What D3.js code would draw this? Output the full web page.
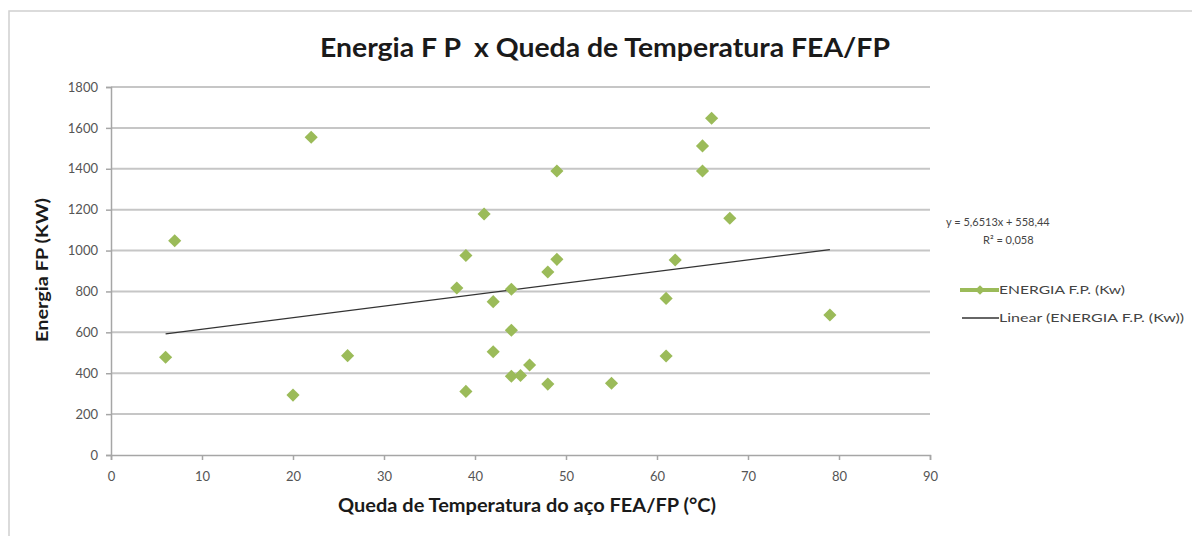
<!DOCTYPE html>
<html>
<head>
<meta charset="utf-8">
<script src="https://cdn.jsdelivr.net/npm/d3@7"></script>
<style>
  body { margin: 0; background: #fff; }
  text { font-family: Lato, "Open Sans", sans-serif; }
</style>
</head>
<body>
<div id="chart"></div>
<script>
// chart size
var width = 1192,
  height = 536;

// data
var queda = [22, 49, 41, 7, 39, 49, 38, 42, 44, 48, 44, 42, 6, 26, 44, 45, 46, 48, 20, 39, 66, 65, 65, 68, 62, 61, 79, 61, 55];
var energia = [1554, 1389, 1179, 1048, 976, 957, 817, 750, 811, 895, 610, 505, 478, 486, 385, 389, 440, 347, 293, 311, 1647, 1512, 1389, 1158, 954, 766, 685, 484, 351];
var xTicks = [0, 10, 20, 30, 40, 50, 60, 70, 80, 90];
var yTicks = [0, 200, 400, 600, 800, 1000, 1200, 1400, 1600, 1800];
var slope = 5.6513,
  intercept = 558.44;
var eqLabel = "y = 5,6513x + 558,44";
var r2Label = "R² = 0,058";
var seriesName = "ENERGIA F.P. (Kw)";
var trendName = "Linear (ENERGIA F.P. (Kw))";

var svg = d3.select("#chart").append("svg")
  .attr("width", width)
  .attr("height", height);

// outer chart frame
svg.append("rect")
  .attr("x", 9).attr("y", 11)
  .attr("width", 1250).attr("height", 600)
  .attr("fill", "none")
  .attr("stroke", "#d0d0d0")
  .attr("stroke-width", 1.5);

var x = d3.scaleLinear().domain([0, 90]).range([111, 930]);
var y = d3.scaleLinear().domain([0, 1800]).range([455, 87]);

// horizontal gridlines
svg.append("g")
  .selectAll("line")
  .data(yTicks.filter(function (d) { return d > 0; }))
  .enter()
  .append("line")
  .attr("x1", x(0)).attr("x2", x(90))
  .attr("y1", function (d) { return y(d); })
  .attr("y2", function (d) { return y(d); })
  .attr("stroke", "#c6c6c6")
  .attr("stroke-width", 2);

// axes
var xAxis = svg.append("g")
  .attr("transform", "translate(0," + y(0) + ")")
  .call(d3.axisBottom(x).tickValues(xTicks).tickFormat(d3.format("d")).tickSize(5).tickPadding(12));
var yAxis = svg.append("g")
  .attr("transform", "translate(" + x(0) + ",0)")
  .call(d3.axisLeft(y).tickValues(yTicks).tickFormat(d3.format("d")).tickSize(5).tickPadding(8));

[xAxis, yAxis].forEach(function (a) {
  a.select(".domain").attr("stroke", "#a6a6a6").attr("stroke-width", 1.5);
  a.selectAll(".tick line").attr("stroke", "#a6a6a6").attr("stroke-width", 1.5);
  a.selectAll(".tick text")
    .attr("fill", "#555")
    .style("font-size", "13px")
    .style("font-family", "Lato, sans-serif");
});

// trend line from min to max x
var xr = d3.extent(queda);
svg.append("line")
  .attr("x1", x(xr[0])).attr("y1", y(slope * xr[0] + intercept))
  .attr("x2", x(xr[1])).attr("y2", y(slope * xr[1] + intercept))
  .attr("stroke", "#333")
  .attr("stroke-width", 1.3);

// markers
var diamond = d3.symbol().type(d3.symbolDiamond2).size(110);
svg.append("g")
  .selectAll("path")
  .data(queda)
  .enter()
  .append("path")
  .attr("d", diamond)
  .attr("transform", function (d, i) { return "translate(" + x(d) + "," + y(energia[i]) + ")"; })
  .attr("fill", "#9bbb59");

// titles
svg.append("text")
  .attr("x", 320).attr("y", 57)
  .style("font-size", "26px")
  .style("font-weight", "bold")
  .attr("fill", "#1a1a1a")
  .attr("xml:space", "preserve")
  .attr("textLength", 570)
  .attr("lengthAdjust", "spacingAndGlyphs")
  .text("Energia F P  x Queda de Temperatura FEA/FP");

svg.append("text")
  .attr("x", 338).attr("y", 512)
  .style("font-size", "18px")
  .style("font-weight", "bold")
  .attr("fill", "#1a1a1a")
  .attr("textLength", 378)
  .attr("lengthAdjust", "spacingAndGlyphs")
  .text("Queda de Temperatura do aço FEA/FP (°C)");

svg.append("text")
  .attr("transform", "translate(48," + 342 + ") rotate(-90)")
  .style("font-size", "17px")
  .style("font-weight", "bold")
  .attr("fill", "#1a1a1a")
  .attr("textLength", 144)
  .attr("lengthAdjust", "spacingAndGlyphs")
  .text("Energia FP (KW)");

// trend equation
svg.append("text")
  .attr("x", 946).attr("y", 226)
  .style("font-size", "11px")
  .attr("fill", "#444")
  .text(eqLabel);
svg.append("text")
  .attr("x", 983).attr("y", 244)
  .style("font-size", "11px")
  .attr("fill", "#444")
  .text(r2Label);

// legend
var legend = svg.append("g");
legend.append("line")
  .attr("x1", 960).attr("x2", 999)
  .attr("y1", 290).attr("y2", 290)
  .attr("stroke", "#9bbb59")
  .attr("stroke-width", 4);
legend.append("path")
  .attr("d", d3.symbol().type(d3.symbolDiamond2).size(60))
  .attr("transform", "translate(980,290)")
  .attr("fill", "#9bbb59");
legend.append("text")
  .attr("x", 999).attr("y", 294)
  .style("font-size", "12px")
  .attr("fill", "#444")
  .attr("textLength", 126)
  .attr("lengthAdjust", "spacingAndGlyphs")
  .text(seriesName);
legend.append("line")
  .attr("x1", 962).attr("x2", 999)
  .attr("y1", 318).attr("y2", 318)
  .attr("stroke", "#333")
  .attr("stroke-width", 1.3);
legend.append("text")
  .attr("x", 999).attr("y", 322)
  .style("font-size", "12px")
  .attr("fill", "#444")
  .attr("textLength", 185)
  .attr("lengthAdjust", "spacingAndGlyphs")
  .text(trendName);
</script>
</body>
</html>
